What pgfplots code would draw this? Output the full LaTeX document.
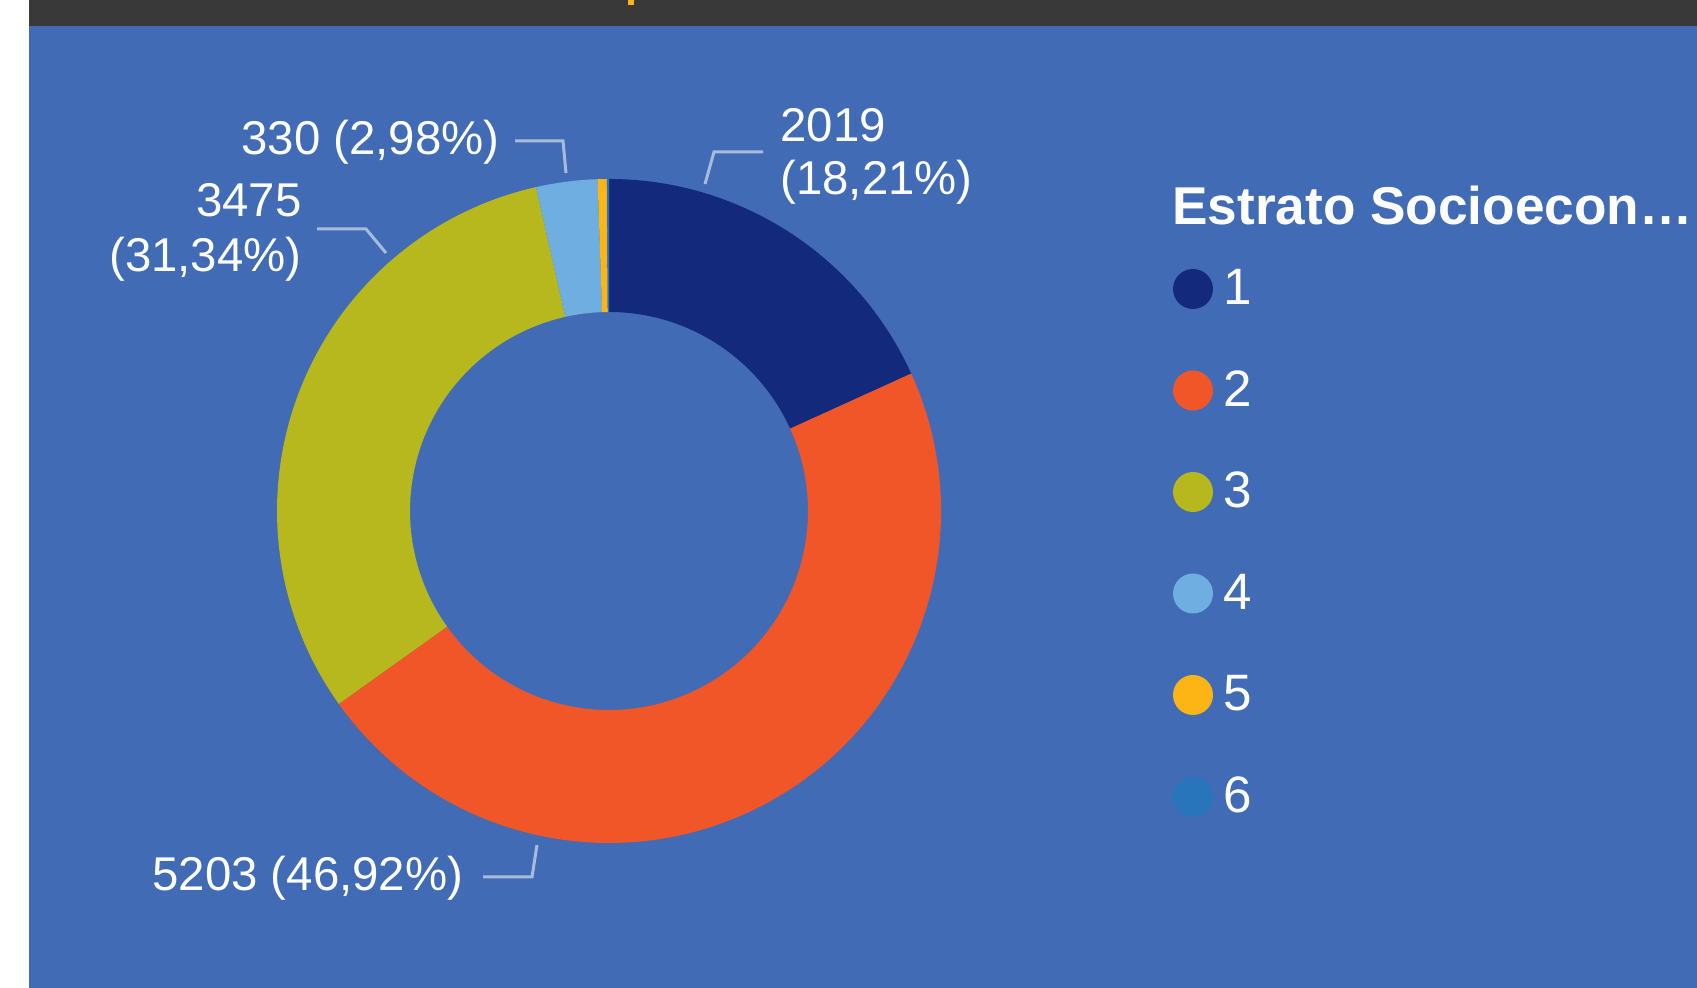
\documentclass[border=0pt]{standalone}
\usepackage{pgfplots}
\usepackage{pgfplotstable}
\pgfplotsset{compat=1.18}
\usepackage{fontspec}
\setmainfont{Liberation Sans}

\definecolor{bgblue}{RGB}{65,107,181}
\definecolor{darkbar}{RGB}{57,57,57}
\definecolor{titleorange}{RGB}{253,181,21}
\definecolor{cA}{RGB}{19,42,124}
\definecolor{cB}{RGB}{241,86,40}
\definecolor{cC}{RGB}{183,183,30}
\definecolor{cD}{RGB}{111,174,224}
\definecolor{cE}{RGB}{253,181,21}
\definecolor{cF}{RGB}{40,117,188}
\definecolor{leader}{RGB}{168,187,222}

\pgfplotstableread{
cat value
1 2019
2 5203
3 3475
4 330
5 50
6 11
}\donutdata

\newcommand\sector[3]{%
  \fill[#1] (axis cs:{609+332*cos(#2)},{477+332*sin(#2)})
    arc[start angle=#2, end angle=#3, radius=166pt]
    -- (axis cs:{609+199*cos(#3)},{477+199*sin(#3)})
    arc[start angle=#3, end angle=#2, radius=99.5pt] -- cycle;}

\begin{document}
\begin{tikzpicture}
\pgfplotstablegetelem{0}{value}\of\donutdata \edef\vA{\pgfplotsretval}
\pgfplotstablegetelem{1}{value}\of\donutdata \edef\vB{\pgfplotsretval}
\pgfplotstablegetelem{2}{value}\of\donutdata \edef\vC{\pgfplotsretval}
\pgfplotstablegetelem{3}{value}\of\donutdata \edef\vD{\pgfplotsretval}
\pgfplotstablegetelem{4}{value}\of\donutdata \edef\vE{\pgfplotsretval}
\pgfplotstablegetelem{5}{value}\of\donutdata \edef\vF{\pgfplotsretval}
\pgfmathsetmacro\tot{(\vA+\vB+\vC+\vD+\vE+\vF)/1000}
\pgfmathsetmacro\aA{90}
\pgfmathsetmacro\aB{\aA-0.36*\vA/\tot}
\pgfmathsetmacro\aC{\aB-0.36*\vB/\tot}
\pgfmathsetmacro\aD{\aC-0.36*\vC/\tot}
\pgfmathsetmacro\aE{\aD-0.36*\vD/\tot}
\pgfmathsetmacro\aF{\aE-0.36*\vE/\tot}
\pgfmathsetmacro\aG{-270}
\begin{axis}[name=ax, width=848.5pt, height=494pt, scale only axis,
  xmin=0, xmax=1697, ymin=0, ymax=988, hide axis, clip=false]
% background
\fill[white] (axis cs:0,0) rectangle (axis cs:29,988);
\fill[bgblue] (axis cs:29,0) rectangle (axis cs:1697,962);
\fill[darkbar] (axis cs:29,962) rectangle (axis cs:1697,988);
\fill[titleorange] (axis cs:628,983) rectangle (axis cs:634,988);
% donut
\sector{cA}{\aA}{\aB}
\sector{cB}{\aB}{\aC}
\sector{cC}{\aC}{\aD}
\sector{cD}{\aD}{\aE}
\sector{cE}{\aE}{\aF}
\sector{cF}{\aF}{\aG}
% leader lines
\draw[leader, line width=1.5pt] (axis cs:705,804) -- (axis cs:714,836) -- (axis cs:763,836);
\draw[leader, line width=1.5pt] (axis cs:515,847) -- (axis cs:563,847) -- (axis cs:566,815);
\draw[leader, line width=1.5pt] (axis cs:317,759) -- (axis cs:366,759) -- (axis cs:386,735);
\draw[leader, line width=1.5pt] (axis cs:483,111) -- (axis cs:532,111) -- (axis cs:537,143);
% labels
\begin{scope}[every node/.style={inner sep=0pt, text=white, font=\fontsize{23.7}{28}\selectfont}]
\node[anchor=base west] at (axis cs:780,846) {2019};
\node[anchor=base west] at (axis cs:780,793) {(18,21\%)};
\node[anchor=base east] at (axis cs:500,833) {330 (2,98\%)};
\node[anchor=base east] at (axis cs:302,771) {3475};
\node[anchor=base east] at (axis cs:302,716) {(31,34\%)};
\node[anchor=base west] at (axis cs:152,97) {5203 (46,92\%)};
\end{scope}
% legend
\node[anchor=base west, inner sep=0pt, text=white, font=\bfseries\fontsize{26.6}{31}\selectfont] at (axis cs:1172,763) {Estrato Socioecon…};
\begin{scope}[every node/.style={inner sep=0pt, text=white, font=\fontsize{25.6}{30}\selectfont, anchor=base west}]
\fill[cA] (axis cs:1193,699) circle[radius=10pt];
\node at (axis cs:1223,683) {1};
\fill[cB] (axis cs:1193,597.5) circle[radius=10pt];
\node at (axis cs:1223,581.5) {2};
\fill[cC] (axis cs:1193,496) circle[radius=10pt];
\node at (axis cs:1223,480) {3};
\fill[cD] (axis cs:1193,394.5) circle[radius=10pt];
\node at (axis cs:1223,378.5) {4};
\fill[cE] (axis cs:1193,293) circle[radius=10pt];
\node at (axis cs:1223,277) {5};
\fill[cF] (axis cs:1193,191.5) circle[radius=10pt];
\node at (axis cs:1223,175.5) {6};
\end{scope}
\end{axis}
\pgfresetboundingbox
\path[use as bounding box] (ax.south west) rectangle (ax.north east);
\end{tikzpicture}
\end{document}
